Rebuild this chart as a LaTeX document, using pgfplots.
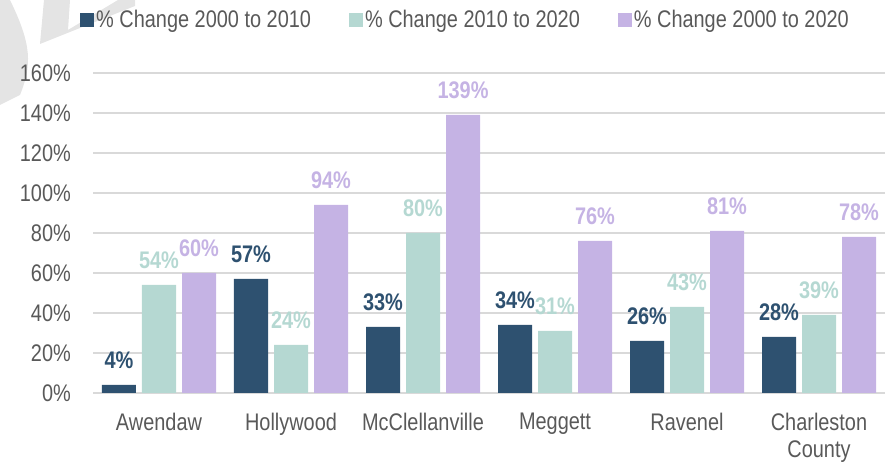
\documentclass[border=0pt]{standalone}
\usepackage{pgfplots}
\pgfplotsset{compat=1.18}
\usepackage{fontspec}
\setmainfont{Liberation Sans}[FakeStretch=0.83]
\definecolor{cnavy}{HTML}{2E5170}
\definecolor{cteal}{HTML}{B5D8D2}
\definecolor{clav}{HTML}{C5B3E4}
\definecolor{ctext}{HTML}{595959}
\definecolor{cgrid}{HTML}{D9D9D9}
\definecolor{cwm}{HTML}{E4E4E4}
\newcommand{\cfont}{\fontsize{24bp}{27bp}\selectfont}
\begin{document}
\begin{tikzpicture}
\path[use as bounding box] (0bp,0bp) rectangle (890bp,465bp);
\begin{scope}[x=1bp,y=1bp]
\fill[cwm] (44,465) -- (70,465) -- (68,435) -- (118,465) -- (135,465) -- (135,459) -- (40,421) -- cycle;
\fill[cwm] (0,465) -- (10,465) .. controls (32,420) and (32,400) .. (20,370) -- (0,360) -- cycle;
\end{scope}
\begin{axis}[
  at={(93bp,72bp)}, anchor=south west,
  scale only axis, width=792bp, height=320bp,
  xmin=-0.5, xmax=5.5, ymin=0, ymax=160,
  ybar=6bp, bar width=34bp,
  axis x line*=bottom, axis y line*=left,
  y axis line style={draw=none},
  x axis line style={cgrid, line width=2bp},
  major tick length=0pt,
  ymajorgrids, grid style={cgrid, line width=1.2bp},
  ytick={0,20,...,160},
  /pgf/number format/assume math mode=true,
  yticklabel={\pgfmathprintnumber{\tick}\%},
  yticklabel style={font=\cfont, text=ctext, inner sep=0pt, anchor=east, xshift=-22bp},
  xtick={0,...,5},
  xticklabels={Awendaw,Hollywood,McClellanville,Meggett,Ravenel,{Charleston\\County}},
  xticklabel style={font=\cfont, text=ctext, align=center, inner sep=0pt, anchor=north, yshift=-20bp},
  nodes near coords={\pgfmathprintnumber{\pgfplotspointmeta}\%},
  every node near coord/.append style={font=\cfont\bfseries, inner sep=0pt, anchor=base, yshift=16bp},
  legend columns=3,
  legend style={draw=none, fill=none, at={(0.4703,1.1656)}, anchor=center,
    font=\cfont, text=ctext, nodes={inner sep=2bp},
    /tikz/every even column/.append style={column sep=36bp}},
  legend image code/.code={\draw[#1,draw=none] (0bp,-7bp) rectangle (14bp,7bp);},
]
\addplot[fill=cnavy, draw=none, nodes near coords style={text=cnavy}] coordinates {(0,4) (1,57) (2,33) (3,34) (4,26) (5,28)};
\addplot[fill=cteal, draw=none, nodes near coords style={text=cteal}] coordinates {(0,54) (1,24) (2,80) (3,31) (4,43) (5,39)};
\addplot[fill=clav, draw=none, nodes near coords style={text=clav}] coordinates {(0,60) (1,94) (2,139) (3,76) (4,81) (5,78)};
\legend{\% Change 2000 to 2010, \% Change 2010 to 2020, \% Change 2000 to 2020}
\end{axis}
\end{tikzpicture}
\end{document}
